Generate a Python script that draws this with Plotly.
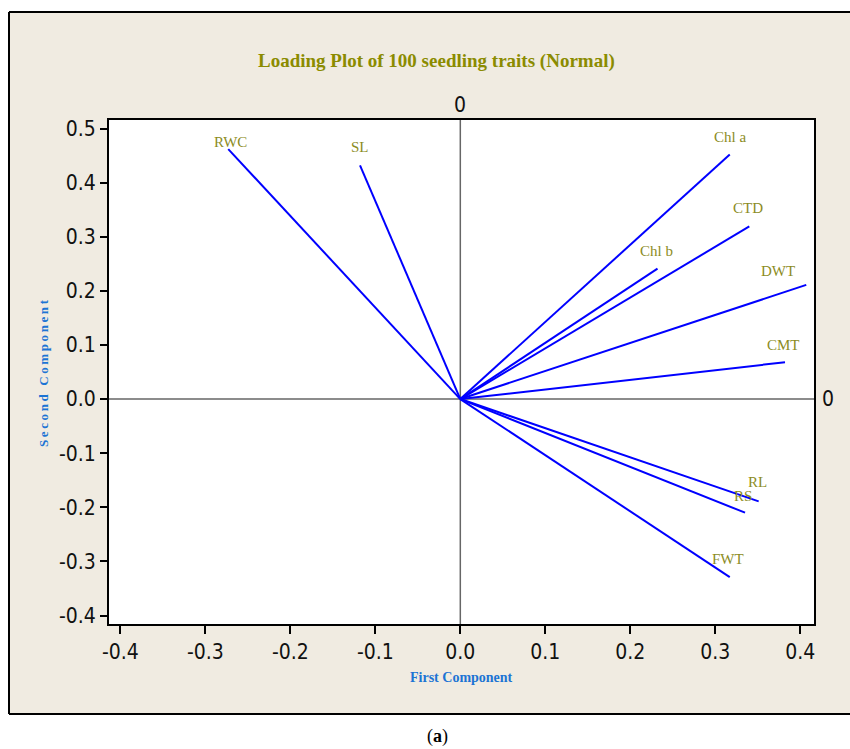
import plotly.graph_objects as go

# ---- data ----
traits = ["RWC", "SL", "Chl a", "CTD", "Chl b", "DWT", "CMT", "RL", "RS", "FWT"]
pc1 = [-0.273, -0.118, 0.317, 0.340, 0.232, 0.407, 0.382, 0.351, 0.335, 0.317]
pc2 = [0.462, 0.432, 0.452, 0.319, 0.241, 0.211, 0.068, -0.189, -0.210, -0.329]

x_ticks = [-0.4, -0.3, -0.2, -0.1, 0.0, 0.1, 0.2, 0.3, 0.4]
x_tick_text = ["-0.4", "-0.3", "-0.2", "-0.1", "0.0", "0.1", "0.2", "0.3", "0.4"]
y_ticks = [-0.4, -0.3, -0.2, -0.1, 0.0, 0.1, 0.2, 0.3, 0.4, 0.5]
y_tick_text = ["-0.4", "-0.3", "-0.2", "-0.1", "0.0", "0.1", "0.2", "0.3", "0.4", "0.5"]

title_text = "Loading Plot of 100 seedling traits (Normal)"
x_title = "First Component"
y_title = "Second Component"
caption = "(<b>a</b>)"

# ---- styling / layout ----
W, H = 850, 749
# plot area in screen pixels
SL_, SR_, ST_, SB_ = 109, 814, 120, 624
L, T = SL_, ST_
R, B = W - SR_, H - SB_
PW, PH = SR_ - SL_, SB_ - ST_


def px2x(px):
    return (px - SL_) / PW


def py2y(py):
    return (SB_ - py) / PH


# label offsets (pixels) from the loading end point
label_shift = {
    "RWC": (2, 7), "SL": (0, 18), "Chl a": (0, 17), "CTD": (-1, 18),
    "Chl b": (-1, 18), "DWT": (-28, 14), "CMT": (-2, 17), "RL": (-1, 19),
    "RS": (-2, 17), "FWT": (-2, 18),
}

OLIVE = "#8C8C1E"
BLUE_LBL = "#1C74D4"
TICKFONT = dict(family="Liberation Sans Narrow, DejaVu Sans Condensed, DejaVu Sans, sans-serif",
                size=21, color="#111111")
SERIF = "Liberation Serif, Times New Roman, serif"

fig = go.Figure()

for name, x, y in zip(traits, pc1, pc2):
    fig.add_trace(go.Scatter(x=[0, x], y=[0, y], mode="lines",
                             line=dict(color="#0000FF", width=2),
                             showlegend=False, hoverinfo="skip"))

annotations = []
for name, x, y in zip(traits, pc1, pc2):
    dx, dy = label_shift[name]
    annotations.append(dict(x=x, y=y, xref="x", yref="y", text=name, showarrow=False,
                            xshift=dx, yshift=dy, xanchor="center", yanchor="middle",
                            font=dict(family=SERIF, size=15, color=OLIVE)))


def ann(x, y, text, font, xref="paper", yref="paper", **kw):
    d = dict(x=x, y=y, xref=xref, yref=yref, text=text, showarrow=False,
             xanchor="center", yanchor="middle", font=font)
    d.update(kw)
    annotations.append(d)


ann(px2x(436), py2y(61), "<b>" + title_text + "</b>",
    dict(family=SERIF, size=19, color="#8B8B00"))
ann(px2x(462), py2y(677), "<b>" + x_title + "</b>",
    dict(family=SERIF, size=14, color=BLUE_LBL))
ann(px2x(43), py2y(373), "<b>" + "\u2009".join(y_title) + "</b>",
    dict(family=SERIF, size=13, color=BLUE_LBL), textangle=-90)
ann(0, py2y(105), "0", TICKFONT, xref="x")
ann(px2x(828), 0, "0", TICKFONT, yref="y")
ann(px2x(437), py2y(736), caption, dict(family=SERIF, size=18, color="#000000"))

FRAME_X0, FRAME_X1, FRAME_Y0, FRAME_Y1 = px2x(9), px2x(900), py2y(714), py2y(12)
border = dict(color="#000000", width=2)
shapes = [
    # beige frame (fill only)
    dict(type="rect", xref="paper", yref="paper", layer="below",
         x0=FRAME_X0, x1=FRAME_X1, y0=FRAME_Y0, y1=FRAME_Y1,
         fillcolor="#F0EBE1", line=dict(width=0)),
    # frame borders: left, top, bottom
    dict(type="line", xref="paper", yref="paper", layer="below",
         x0=FRAME_X0, x1=FRAME_X0, y0=FRAME_Y0, y1=FRAME_Y1, line=border),
    dict(type="line", xref="paper", yref="paper", layer="below",
         x0=FRAME_X0, x1=FRAME_X1, y0=FRAME_Y1, y1=FRAME_Y1, line=border),
    dict(type="line", xref="paper", yref="paper", layer="below",
         x0=FRAME_X0, x1=FRAME_X1, y0=FRAME_Y0, y1=FRAME_Y0, line=border),
    # white plot area
    dict(type="rect", xref="paper", yref="paper", layer="below",
         x0=0, x1=1, y0=0, y1=1, fillcolor="#FFFFFF", line=dict(width=0)),
    # reference lines
    dict(type="line", xref="x", yref="paper", x0=0, x1=0, y0=0, y1=1,
         line=dict(color="#666666", width=1.5), layer="below"),
    dict(type="line", xref="paper", yref="y", x0=0, x1=1, y0=0, y1=0,
         line=dict(color="#666666", width=1.5), layer="below"),
]

fig.update_layout(
    width=W, height=H,
    margin=dict(l=L, r=R, t=T, b=B, pad=0),
    paper_bgcolor="#FFFFFF", plot_bgcolor="#FFFFFF",
    annotations=annotations, shapes=shapes,
    xaxis=dict(range=[-0.4133, 0.4161], tickvals=x_ticks, ticktext=x_tick_text,
               ticks="outside", ticklen=8, tickwidth=1.5, tickcolor="#000000",
               showline=True, mirror=True, linecolor="#000000", linewidth=2,
               showgrid=False, zeroline=False, tickfont=TICKFONT),
    yaxis=dict(range=[-0.4157, 0.5157], tickvals=y_ticks, ticktext=y_tick_text,
               ticks="outside", ticklen=7, tickwidth=1.5, tickcolor="#000000",
               showline=True, mirror=True, linecolor="#000000", linewidth=2,
               showgrid=False, zeroline=False, tickfont=TICKFONT),
)

fig.write_html("out.html",
               config={"displayModeBar": False},
               post_script="document.body.style.margin='0px';"
                           "document.body.style.overflow='hidden';")
